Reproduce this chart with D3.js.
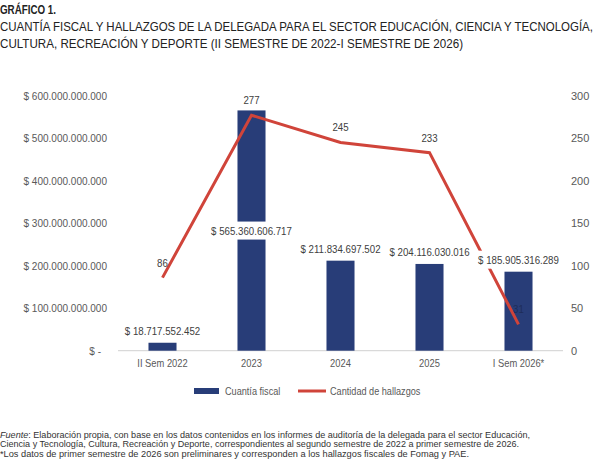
<!DOCTYPE html>
<html>
<head>
<meta charset="utf-8">
<script src="https://cdn.jsdelivr.net/npm/d3@7"></script>
<style>
  body { margin: 0; background: #fff; }
  svg text { font-family: "Liberation Sans", Arial, sans-serif; }
</style>
</head>
<body>
<div id="viz"></div>
<script>
var w = 600;
var h = 466;

// data
var categories = ["II Sem 2022", "2023", "2024", "2025", "I Sem 2026*"];
var cuantia = [18717552452, 565360606717, 211834697502, 204116030016, 185905316289];
var hallazgos = [86, 277, 245, 233, 31];
var leftTicks = [0, 100e9, 200e9, 300e9, 400e9, 500e9, 600e9];
var rightTicks = [0, 50, 100, 150, 200, 250, 300];
var titleLines = [
    "GRÁFICO 1.",
    "CUANTÍA FISCAL Y HALLAZGOS DE LA DELEGADA PARA EL SECTOR EDUCACIÓN, CIENCIA Y TECNOLOGÍA,",
    "CULTURA, RECREACIÓN Y DEPORTE (II SEMESTRE DE 2022-I SEMESTRE DE 2026)"
];
var footLines = [
    "Elaboración propia, con base en los datos contenidos en los informes de auditoría de la delegada para el sector Educación,",
    "Ciencia y Tecnología, Cultura, Recreación y Deporte, correspondientes al segundo semestre de 2022 a primer semestre de 2026.",
    "*Los datos de primer semestre de 2026 son preliminares y corresponden a los hallazgos fiscales de Fomag y PAE."
];

var navy = "#283d78";
var red = "#d0443a";
var grey = "#595959";

// no condensed font installed, so squeeze texts horizontally
function condense(sel, k) {
    sel.each(function () {
        var len = this.getComputedTextLength();
        d3.select(this)
            .attr("textLength", len * k)
            .attr("lengthAdjust", "spacingAndGlyphs");
    });
}

var svg = d3.select("#viz")
    .append("svg")
    .attr("width", w)
    .attr("height", h);

// title, squeezed to the reference widths with a scale transform
var titleWidths = [56, 593, 463];
svg.append("g").attr("class", "title")
    .selectAll("text")
    .data(titleLines)
    .enter().append("text")
    .attr("x", 0)
    .attr("y", function (d, i) { return 14 + i * 17; })
    .style("font-size", "12.8px")
    .style("font-weight", function (d, i) { return i == 0 ? "bold" : "normal"; })
    .style("fill", "#222")
    .text(function (d) { return d; })
    .each(function (d, i) {
        var k = titleWidths[i] / this.getComputedTextLength();
        d3.select(this).attr("transform", "scale(" + k + ",1)");
    });

var x = d3.scaleBand()
    .domain(categories)
    .range([118, 563])
    .paddingInner(0.685)
    .paddingOuter(0.3425);

var yLeft = d3.scaleLinear().domain([0, 600e9]).range([350.7, 95.7]);
var yRight = d3.scaleLinear().domain([0, 300]).range([350.7, 95.7]);

var dots = d3.formatLocale({ decimal: ",", thousands: ".", grouping: [3], currency: ["", ""] }).format(",.0f");
function money(v) {
    return v == 0 ? "$ -" : "$ " + dots(v);
}

// axes
var leftAxis = svg.append("g")
    .attr("transform", "translate(107,0)")
    .call(d3.axisLeft(yLeft).tickValues(leftTicks).tickFormat(money).tickSize(0).tickPadding(0));
leftAxis.select(".domain").remove();
leftAxis.selectAll("text")
    .style("font-size", "11px")
    .style("fill", grey)
    .attr("dx", function (d) { return d == 0 ? -6 : 0; })
    .call(condense, 0.91);

var rightAxis = svg.append("g")
    .attr("transform", "translate(571,0)")
    .call(d3.axisRight(yRight).tickValues(rightTicks).tickSize(0).tickPadding(0));
rightAxis.select(".domain").remove();
rightAxis.selectAll("text")
    .style("font-size", "11px")
    .style("fill", grey);

var bottomAxis = svg.append("g")
    .attr("transform", "translate(0,350.7)")
    .call(d3.axisBottom(x).tickSize(0).tickPadding(9));
bottomAxis.select(".domain")
    .attr("stroke", "#d0d0d0")
    .attr("d", "M118,0H563");
bottomAxis.selectAll("text")
    .style("font-size", "11px")
    .style("fill", grey)
    .call(condense, 0.85);

// bars
svg.append("g").selectAll("rect")
    .data(cuantia)
    .enter().append("rect")
    .attr("x", function (d, i) { return x(categories[i]); })
    .attr("width", x.bandwidth())
    .attr("y", function (d) { return yLeft(d); })
    .attr("height", function (d) { return yLeft(0) - yLeft(d); })
    .attr("fill", navy);

// line
var line = d3.line()
    .x(function (d, i) { return x(categories[i]) + x.bandwidth() / 2; })
    .y(function (d) { return yRight(d); });

svg.append("path")
    .datum(hallazgos)
    .attr("d", line)
    .attr("fill", "none")
    .attr("stroke", red)
    .attr("stroke-width", 3);

// line labels
svg.append("g").selectAll("text")
    .data(hallazgos)
    .enter().append("text")
    .attr("x", function (d, i) { return x(categories[i]) + x.bandwidth() / 2; })
    .attr("y", function (d) { return yRight(d) - 11; })
    .attr("text-anchor", "middle")
    .style("font-size", "11px")
    .style("fill", function (d, i) { return i == hallazgos.length - 1 ? "#1e2d5a" : "#404040"; })
    .text(function (d) { return d; })
    .call(condense, 0.88);

// bar labels with white boxes
var barLabels = svg.append("g").selectAll("g")
    .data(cuantia)
    .enter().append("g")
    .attr("transform", function (d, i) {
        var cx = x(categories[i]) + x.bandwidth() / 2;
        var cy = d > 400e9 ? (yLeft(d) + yLeft(0)) / 2 : yLeft(d) - 12;
        return "translate(" + cx + "," + cy + ")";
    });

barLabels.append("rect")
    .attr("fill", "#fff");

barLabels.append("text")
    .attr("text-anchor", "middle")
    .attr("y", 4)
    .style("font-size", "11px")
    .style("fill", "#404040")
    .text(function (d) { return money(d); })
    .call(condense, 0.88);

barLabels.each(function () {
    var g = d3.select(this);
    var t = g.select("text").node();
    var len = +t.getAttribute("textLength");
    g.select("rect")
        .attr("x", -len / 2 - 2)
        .attr("width", len + 4)
        .attr("y", -9)
        .attr("height", 18);
});

// legend
var legend = svg.append("g");
legend.append("rect")
    .attr("x", 194).attr("y", 388)
    .attr("width", 25).attr("height", 6)
    .attr("fill", navy);
legend.append("text")
    .attr("x", 225).attr("y", 395)
    .style("font-size", "11px").style("fill", grey)
    .text("Cuantía fiscal")
    .call(condense, 0.83);
legend.append("line")
    .attr("x1", 298).attr("x2", 326)
    .attr("y1", 391).attr("y2", 391)
    .attr("stroke", red).attr("stroke-width", 3);
legend.append("text")
    .attr("x", 330).attr("y", 395)
    .style("font-size", "11px").style("fill", grey)
    .text("Cantidad de hallazgos")
    .call(condense, 0.83);

// footer
var foot = svg.append("g").attr("class", "foot");
var footWidths = [530, 519, 469];
var f0 = foot.append("text")
    .attr("x", 0).attr("y", 437.5)
    .style("font-size", "8.6px").style("fill", "#333");
f0.append("tspan").style("font-style", "italic").text("Fuente");
f0.append("tspan").text(": " + footLines[0]);
f0.attr("textLength", footWidths[0]).attr("lengthAdjust", "spacingAndGlyphs");

foot.selectAll("text.more")
    .data(footLines.slice(1))
    .enter().append("text")
    .attr("class", "more")
    .attr("x", 0)
    .attr("y", function (d, i) { return 447.3 + i * 9.8; })
    .attr("textLength", function (d, i) { return footWidths[i + 1]; })
    .attr("lengthAdjust", "spacingAndGlyphs")
    .style("font-size", "8.6px").style("fill", "#333")
    .text(function (d) { return d; });
</script>
</body>
</html>
